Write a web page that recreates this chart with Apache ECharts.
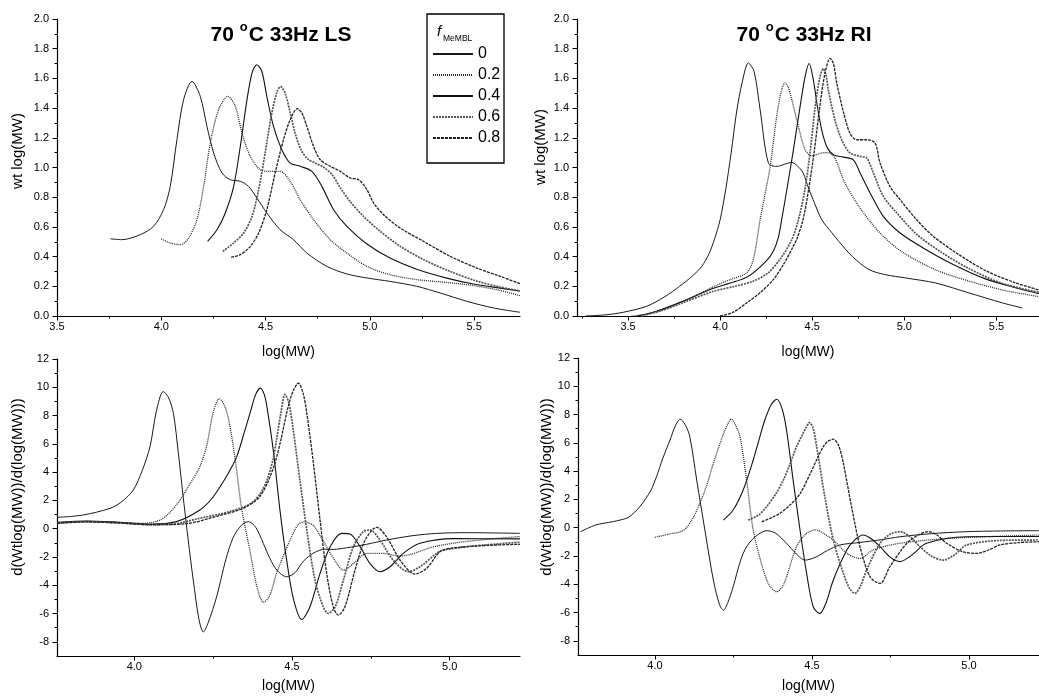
<!DOCTYPE html>
<html><head><meta charset="utf-8">
<script src="https://cdn.jsdelivr.net/npm/echarts@6/dist/echarts.min.js"></script>
<style>html,body{margin:0;padding:0;background:#fff}#c{width:1039px;height:700px}</style>
</head><body><div id="c"></div>
<script>
const FONT = 'Liberation Sans, Arial, sans-serif';
const fractions = ['0', '0.2', '0.4', '0.6', '0.8'];

// ---- Top-left: 70 °C 33Hz LS, wt log(MW) vs log(MW)
const ls0 = [[3.756,0.52],[3.81,0.514],[3.9,0.548],[3.963,0.604],[4.011,0.716],[4.043,0.873],[4.075,1.187],[4.107,1.457],[4.147,1.58],[4.187,1.479],[4.219,1.277],[4.251,1.098],[4.291,0.963],[4.331,0.918],[4.379,0.907],[4.418,0.873],[4.458,0.795],[4.506,0.694],[4.57,0.581],[4.634,0.514],[4.698,0.424],[4.794,0.334],[4.89,0.283],[4.986,0.256],[5.097,0.233],[5.225,0.2],[5.337,0.155],[5.465,0.099],[5.593,0.054],[5.72,0.025]];
const ls02 = [[4.0,0.519],[4.043,0.492],[4.091,0.48],[4.131,0.525],[4.171,0.649],[4.203,0.873],[4.235,1.165],[4.275,1.389],[4.319,1.479],[4.355,1.412],[4.387,1.232],[4.427,1.075],[4.474,0.985],[4.522,0.974],[4.57,0.974],[4.618,0.907],[4.666,0.783],[4.73,0.649],[4.81,0.514],[4.89,0.424],[4.986,0.334],[5.097,0.278],[5.225,0.245],[5.353,0.228],[5.497,0.205],[5.625,0.172],[5.72,0.137]];
const ls04 = [[4.222,0.503],[4.267,0.581],[4.307,0.694],[4.347,0.873],[4.379,1.143],[4.411,1.457],[4.435,1.636],[4.458,1.692],[4.482,1.648],[4.506,1.479],[4.538,1.277],[4.578,1.12],[4.618,1.03],[4.666,1.008],[4.722,0.974],[4.77,0.873],[4.826,0.716],[4.89,0.604],[4.986,0.485],[5.097,0.39],[5.225,0.315],[5.369,0.255],[5.497,0.215],[5.625,0.188],[5.72,0.168]];
const ls06 = [[4.295,0.435],[4.347,0.492],[4.395,0.559],[4.435,0.671],[4.467,0.851],[4.498,1.098],[4.53,1.367],[4.555,1.51],[4.572,1.545],[4.594,1.5],[4.618,1.37],[4.642,1.23],[4.67,1.12],[4.7,1.06],[4.738,1.03],[4.78,1.0],[4.82,0.95],[4.86,0.86],[4.906,0.77],[4.97,0.67],[5.05,0.57],[5.145,0.47],[5.257,0.38],[5.385,0.3],[5.513,0.235],[5.625,0.195],[5.72,0.168]];
const ls08 = [[4.335,0.395],[4.379,0.413],[4.427,0.469],[4.467,0.559],[4.506,0.716],[4.546,0.963],[4.586,1.187],[4.618,1.322],[4.652,1.396],[4.674,1.367],[4.698,1.277],[4.73,1.143],[4.762,1.053],[4.81,1.008],[4.858,0.974],[4.906,0.929],[4.946,0.918],[4.986,0.851],[5.018,0.761],[5.066,0.682],[5.145,0.593],[5.257,0.503],[5.385,0.402],[5.513,0.323],[5.625,0.267],[5.72,0.218]];

// ---- Top-right: 70 °C 33Hz RI
const ri0 = [[3.27,0],[3.38,0.008],[3.474,0.025],[3.6,0.065],[3.7,0.13],[3.78,0.2],[3.85,0.27],[3.9,0.334],[3.94,0.42],[3.97,0.52],[4.0,0.648],[4.03,0.85],[4.06,1.1],[4.09,1.38],[4.121,1.58],[4.153,1.704],[4.184,1.648],[4.217,1.39],[4.262,1.03],[4.307,1.007],[4.35,1.022],[4.389,1.034],[4.42,1.01],[4.45,0.965],[4.48,0.86],[4.505,0.783],[4.552,0.648],[4.606,0.561],[4.646,0.5],[4.718,0.4],[4.809,0.312],[4.899,0.278],[5.008,0.256],[5.171,0.222],[5.352,0.155],[5.533,0.088],[5.641,0.054]];
const ri02 = [[3.52,0],[3.6,0.012],[3.7,0.05],[3.78,0.09],[3.88,0.145],[3.96,0.195],[4.054,0.245],[4.144,0.29],[4.18,0.38],[4.217,0.648],[4.245,0.83],[4.271,1.0],[4.307,1.344],[4.334,1.524],[4.352,1.569],[4.37,1.54],[4.389,1.457],[4.425,1.277],[4.461,1.12],[4.497,1.079],[4.552,1.098],[4.587,1.1],[4.623,1.064],[4.669,0.918],[4.741,0.761],[4.814,0.637],[4.886,0.536],[4.99,0.43],[5.171,0.31],[5.352,0.235],[5.533,0.175],[5.731,0.13]];
const ri04 = [[3.55,0],[3.65,0.03],[3.78,0.09],[3.96,0.185],[4.05,0.22],[4.15,0.265],[4.25,0.37],[4.29,0.44],[4.316,0.53],[4.334,0.648],[4.362,0.85],[4.398,1.12],[4.434,1.41],[4.461,1.61],[4.483,1.7],[4.506,1.59],[4.528,1.41],[4.552,1.25],[4.579,1.14],[4.615,1.086],[4.669,1.07],[4.723,1.052],[4.76,0.963],[4.814,0.828],[4.886,0.671],[4.977,0.559],[5.1,0.46],[5.26,0.35],[5.44,0.25],[5.62,0.185],[5.731,0.15]];
const ri06 = [[3.57,0],[3.68,0.035],[3.8,0.09],[3.96,0.165],[4.08,0.2],[4.18,0.235],[4.26,0.29],[4.33,0.39],[4.389,0.514],[4.425,0.648],[4.46,0.85],[4.49,1.12],[4.515,1.4],[4.54,1.6],[4.56,1.665],[4.575,1.62],[4.587,1.524],[4.623,1.322],[4.66,1.187],[4.705,1.098],[4.76,1.075],[4.796,1.064],[4.832,0.963],[4.886,0.805],[4.959,0.694],[5.067,0.55],[5.2,0.43],[5.35,0.32],[5.53,0.22],[5.731,0.16]];
const ri08 = [[4.0,0],[4.07,0.025],[4.144,0.088],[4.22,0.16],[4.289,0.245],[4.35,0.36],[4.397,0.469],[4.415,0.514],[4.45,0.648],[4.48,0.85],[4.51,1.1],[4.54,1.4],[4.57,1.64],[4.597,1.735],[4.615,1.7],[4.633,1.57],[4.67,1.37],[4.705,1.23],[4.741,1.187],[4.796,1.187],[4.841,1.165],[4.868,1.03],[4.922,0.873],[4.977,0.783],[5.067,0.648],[5.158,0.536],[5.3,0.41],[5.45,0.3],[5.6,0.225],[5.731,0.175]];

// ---- Bottom-left: LS derivative
const lsd0 = [[3.756,0.8],[3.838,0.97],[3.923,1.44],[3.96,1.9],[3.997,2.74],[4.025,4.1],[4.05,5.81],[4.07,8.3],[4.092,9.7],[4.108,9.3],[4.124,8.17],[4.14,5.3],[4.155,2.27],[4.171,-0.8],[4.187,-3.63],[4.205,-6.4],[4.219,-7.3],[4.235,-6.6],[4.261,-4.82],[4.29,-2.2],[4.314,-0.6],[4.34,0.25],[4.362,0.5],[4.385,0.1],[4.409,-1.03],[4.43,-2.1],[4.452,-2.92],[4.483,-3.4],[4.51,-3.1],[4.536,-2.3],[4.57,-1.7],[4.605,-1.45],[4.631,-1.46],[4.673,-1.35],[4.737,-1.1],[4.8,-0.8],[4.88,-0.5],[4.959,-0.33],[5.054,-0.28],[5.223,-0.33]];
const lsd02 = [[3.756,0.42],[3.85,0.5],[3.95,0.45],[4.03,0.38],[4.082,0.62],[4.115,1.2],[4.145,2.03],[4.18,3.3],[4.208,4.39],[4.23,5.9],[4.25,8.2],[4.27,9.2],[4.288,8.6],[4.302,7.4],[4.32,4.9],[4.34,1.5],[4.367,-1.6],[4.39,-4.2],[4.41,-5.2],[4.43,-4.7],[4.451,-3.16],[4.494,-0.8],[4.52,0.3],[4.54,0.48],[4.56,0.35],[4.573,0.1],[4.61,-1.28],[4.642,-2.46],[4.663,-2.93],[4.695,-2.46],[4.737,-1.75],[4.79,-1.75],[4.842,-1.94],[4.885,-1.75],[4.948,-1.28],[5.054,-0.9],[5.223,-0.55]];
const lsd04 = [[3.756,0.45],[3.85,0.55],[3.95,0.45],[4.05,0.32],[4.134,0.5],[4.208,1.32],[4.245,2.1],[4.272,2.97],[4.3,4.0],[4.325,5.1],[4.35,6.9],[4.367,8.17],[4.385,9.5],[4.4,9.94],[4.412,9.5],[4.42,8.7],[4.441,5.5],[4.462,1.3],[4.483,-2.2],[4.505,-5.0],[4.531,-6.42],[4.557,-5.52],[4.589,-3.16],[4.621,-1.27],[4.658,-0.33],[4.684,-0.38],[4.716,-1.27],[4.747,-2.45],[4.779,-3.04],[4.811,-2.69],[4.853,-1.74],[4.906,-1.03],[5.012,-0.7],[5.223,-0.72]];
const lsd06 = [[3.756,0.4],[3.85,0.5],[3.95,0.42],[4.05,0.3],[4.12,0.32],[4.2,0.7],[4.3,1.2],[4.367,1.75],[4.4,2.5],[4.42,3.4],[4.44,4.9],[4.451,6.28],[4.465,8.2],[4.478,9.5],[4.49,8.9],[4.504,7.0],[4.525,3.45],[4.547,-0.09],[4.573,-3.63],[4.599,-5.52],[4.615,-5.99],[4.637,-5.52],[4.663,-3.63],[4.695,-1.27],[4.726,-0.21],[4.747,-0.09],[4.779,-0.8],[4.821,-2.22],[4.869,-3.04],[4.906,-2.69],[4.959,-1.74],[4.98,-1.51],[5.065,-1.25],[5.223,-0.95]];
const lsd08 = [[3.756,0.38],[3.85,0.48],[3.95,0.4],[4.05,0.28],[4.166,0.36],[4.272,0.95],[4.346,1.45],[4.399,2.3],[4.441,4.3],[4.465,6.3],[4.483,8.17],[4.494,9.11],[4.505,9.8],[4.52,10.29],[4.535,9.6],[4.547,8.17],[4.568,4.63],[4.589,0.62],[4.61,-3.16],[4.631,-5.52],[4.647,-6.11],[4.668,-5.52],[4.7,-2.92],[4.732,-0.8],[4.769,0.1],[4.8,-0.57],[4.843,-2.22],[4.89,-3.21],[4.927,-2.8],[4.969,-1.63],[5.001,-1.39],[5.1,-1.2],[5.223,-1.1]];

// ---- Bottom-right: RI derivative
const rid0 = [[3.763,-0.28],[3.811,0.19],[3.864,0.42],[3.889,0.54],[3.917,0.75],[3.952,1.49],[3.986,2.6],[4.005,3.61],[4.025,4.9],[4.048,6.2],[4.065,7.2],[4.08,7.67],[4.096,7.3],[4.111,6.44],[4.133,3.37],[4.159,-0.16],[4.186,-3.7],[4.205,-5.4],[4.218,-5.83],[4.232,-5.3],[4.249,-4.18],[4.273,-2.29],[4.292,-1.34],[4.321,-0.6],[4.356,-0.21],[4.385,-0.4],[4.419,-1.1],[4.45,-1.85],[4.478,-2.29],[4.51,-2.1],[4.55,-1.6],[4.589,-1.22],[4.65,-1.05],[4.72,-0.85],[4.78,-0.64],[4.88,-0.42],[4.993,-0.28],[5.1,-0.23],[5.223,-0.21]];
const rid02 = [[4.0,-0.68],[4.045,-0.45],[4.09,-0.2],[4.119,0.6],[4.143,1.73],[4.165,3.0],[4.186,4.56],[4.205,5.8],[4.223,6.91],[4.244,7.67],[4.26,7.1],[4.271,6.44],[4.292,3.37],[4.313,-0.16],[4.345,-2.99],[4.365,-4.1],[4.388,-4.53],[4.405,-4.2],[4.419,-3.47],[4.451,-1.34],[4.48,-0.45],[4.51,-0.15],[4.53,-0.3],[4.55,-0.6],[4.568,-0.87],[4.611,-1.81],[4.653,-2.17],[4.695,-1.58],[4.78,-1.1],[4.939,-0.75],[5.1,-0.6],[5.223,-0.52]];
const rid04 = [[4.218,0.54],[4.249,1.25],[4.281,2.67],[4.313,4.79],[4.335,6.5],[4.35,7.62],[4.37,8.7],[4.388,9.08],[4.405,8.4],[4.419,6.91],[4.44,3.37],[4.462,-0.16],[4.483,-3.23],[4.504,-5.59],[4.525,-6.06],[4.545,-5.3],[4.568,-3.7],[4.611,-1.58],[4.635,-0.9],[4.663,-0.52],[4.69,-0.8],[4.717,-1.34],[4.75,-2.1],[4.78,-2.4],[4.82,-1.9],[4.865,-1.1],[4.993,-0.64],[5.223,-0.62]];
const rid06 = [[4.297,0.54],[4.33,0.9],[4.356,1.49],[4.385,2.4],[4.409,3.37],[4.43,4.5],[4.451,5.73],[4.47,6.6],[4.483,7.15],[4.492,7.43],[4.503,7.1],[4.515,5.73],[4.541,2.19],[4.568,-0.87],[4.6,-3.23],[4.62,-4.3],[4.637,-4.64],[4.655,-4.1],[4.674,-2.99],[4.717,-1.1],[4.75,-0.45],[4.78,-0.28],[4.81,-0.6],[4.844,-1.34],[4.88,-2.0],[4.918,-2.29],[4.955,-1.9],[4.993,-1.22],[5.099,-0.9],[5.223,-0.87]];
const rid08 = [[4.34,0.42],[4.37,0.7],[4.398,1.02],[4.43,1.6],[4.462,2.4],[4.494,3.8],[4.515,4.8],[4.536,5.73],[4.55,6.1],[4.568,6.26],[4.585,5.8],[4.6,4.56],[4.626,1.49],[4.653,-1.34],[4.685,-3.47],[4.717,-3.94],[4.748,-2.76],[4.802,-1.1],[4.84,-0.5],[4.87,-0.28],[4.9,-0.55],[4.929,-1.1],[4.98,-1.7],[5.024,-1.81],[5.06,-1.6],[5.099,-1.22],[5.16,-1.05],[5.223,-0.99]];

// ---- tick values
const topXTicksLS = [3.5, 4.0, 4.5, 5.0, 5.5];
const topXMinorLS = [3.75, 4.25, 4.75, 5.25];
const topXTicksRI = [3.5, 4.0, 4.5, 5.0, 5.5];
const topXMinorRI = [3.25, 3.75, 4.25, 4.75, 5.25];
const botXTicks = [4.0, 4.5, 5.0];
const botXMinor = [4.25, 4.75];
const topYTicks = [0, 0.2, 0.4, 0.6, 0.8, 1.0, 1.2, 1.4, 1.6, 1.8, 2.0];
const topYMinor = [0.1, 0.3, 0.5, 0.7, 0.9, 1.1, 1.3, 1.5, 1.7, 1.9];
const botYTicks = [-8, -6, -4, -2, 0, 2, 4, 6, 8, 10, 12];
const botYMinor = [-7, -5, -3, -1, 1, 3, 5, 7, 9, 11];

const titleLS = '70 {sup|o}C 33Hz LS';
const titleRI = '70 {sup|o}C 33Hz RI';
const xName = 'log(MW)';
const yNameTop = 'wt log(MW)';
const yNameBot = 'd(Wtlog(MW))/d(log(MW)))';

const lineStyles = [
  {color: '#1a1a1a', width: 1, type: 'solid'},
  {color: '#2a2a2a', width: 1.3, type: [1, 1]},
  {color: '#111', width: 1.1, type: 'solid'},
  {color: '#555', width: 1.7, type: [2, 1]},
  {color: '#222', width: 1.3, type: [3, 1]}
];

const panels = [
  {grid: {left: 57, top: 19, width: 463, height: 297}, x: [3.5, 5.72], y: [0, 2], xT: topXTicksLS, xM: topXMinorLS, yT: topYTicks, yM: topYMinor, curves: [ls0, ls02, ls04, ls06, ls08], yDec: 1, gap: 29},
  {grid: {left: 577, top: 19, width: 462, height: 297}, x: [3.223, 5.731], y: [0, 2], xT: topXTicksRI, xM: topXMinorRI, yT: topYTicks, yM: topYMinor, curves: [ri0, ri02, ri04, ri06, ri08], yDec: 1, gap: 29},
  {grid: {left: 57, top: 359, width: 463, height: 297}, x: [3.755, 5.223], y: [-9, 12], xT: botXTicks, xM: botXMinor, yT: botYTicks, yM: botYMinor, curves: [lsd0, lsd02, lsd04, lsd06, lsd08], yDec: 0, gap: 23},
  {grid: {left: 578, top: 358, width: 461, height: 297}, x: [3.755, 5.223], y: [-9, 12], xT: botXTicks, xM: botXMinor, yT: botYTicks, yM: botYMinor, curves: [rid0, rid02, rid04, rid06, rid08], yDec: 0, gap: 24}
];

const grids = [], xAxes = [], yAxes = [], series = [];
const axLine = {show: true, onZero: false, lineStyle: {color: '#000', width: 1.2}};
const lbl = {fontSize: 11, color: '#000', fontFamily: FONT};
panels.forEach((p, i) => {
  grids.push(Object.assign({containLabel: false, outerBoundsMode: 'none'}, p.grid));
  xAxes.push({gridIndex: i, type: 'value', min: p.x[0], max: p.x[1], position: 'bottom',
    name: xName, nameLocation: 'middle', nameGap: p.gap, nameMoveOverlap: false,
    nameTextStyle: {fontSize: 14, color: '#000', fontFamily: FONT},
    axisLine: axLine,
    axisTick: {show: true, customValues: p.xT, length: 4.5, lineStyle: {color: '#000', width: 1}},
    axisLabel: Object.assign({show: true, customValues: p.xT, margin: 5, hideOverlap: false, formatter: v => Number(v).toFixed(1)}, lbl),
    splitLine: {show: false}});
  yAxes.push({gridIndex: i, type: 'value', min: p.y[0], max: p.y[1], position: 'left',
    axisLine: axLine,
    axisTick: {show: true, customValues: p.yT, length: 4.5, lineStyle: {color: '#000', width: 1}},
    axisLabel: Object.assign({show: true, customValues: p.yT, margin: 8, hideOverlap: false, formatter: v => Number(v).toFixed(p.yDec)}, lbl),
    splitLine: {show: false}});
  p.curves.forEach((d, j) => {
    series.push({name: fractions[j], type: 'line', xAxisIndex: i, yAxisIndex: i, data: d,
      symbol: 'none', showSymbol: false, smooth: 0.3, clip: true,
      color: lineStyles[j].color, lineStyle: lineStyles[j], z: 2 + j});
  });
});
panels.forEach((p, i) => {
  xAxes.push({gridIndex: i, type: 'value', min: p.x[0], max: p.x[1], position: 'bottom',
    axisLine: {show: false, onZero: false},
    axisTick: {show: true, customValues: p.xM, length: 2.5, lineStyle: {color: '#000', width: 1}},
    axisLabel: {show: false}, splitLine: {show: false}});
  yAxes.push({gridIndex: i, type: 'value', min: p.y[0], max: p.y[1], position: 'left',
    axisLine: {show: false, onZero: false},
    axisTick: {show: true, customValues: p.yM, length: 2.5, lineStyle: {color: '#000', width: 1}},
    axisLabel: {show: false}, splitLine: {show: false}});
});

function yName(text, x, y) {
  return {type: 'text', x: x, y: y, rotation: Math.PI / 2, z: 10,
    style: {text: text, fontSize: 15, fill: '#000', fontFamily: FONT, align: 'center', verticalAlign: 'middle'}};
}
function titleText(text, x, y) {
  return {type: 'text', x: x, y: y, z: 10,
    style: {text: text, fontSize: 21, fontWeight: 'bold', fill: '#000', fontFamily: FONT, align: 'center', verticalAlign: 'middle',
      rich: {sup: {fontSize: 13, fontWeight: 'bold', fontFamily: FONT, verticalAlign: 'top', padding: [0, 1, 16, 0]}}}};
}

const chart = echarts.init(document.getElementById('c'), null, {renderer: 'canvas'});
chart.setOption({
  animation: false,
  backgroundColor: '#fff',
  grid: grids,
  xAxis: xAxes,
  yAxis: yAxes,
  legend: {data: fractions, orient: 'vertical', left: 432, top: 46, itemWidth: 40, itemHeight: 14, itemGap: 5,
    padding: 0, selectedMode: false, itemStyle: {opacity: 0},
    textStyle: {fontSize: 16, color: '#000', fontFamily: FONT}},
  graphic: [
    yName(yNameTop, 18, 151), yName(yNameTop, 541, 147),
    yName(yNameBot, 18, 487), yName(yNameBot, 547, 487),
    titleText(titleLS, 281, 35), titleText(titleRI, 804, 35),
    {type: 'rect', shape: {x: 427, y: 14, width: 77, height: 149}, z: 1,
      style: {fill: 'transparent', stroke: '#000', lineWidth: 1.3}},
    {type: 'text', x: 437, y: 32, z: 10, style: {text: 'f', fontSize: 15, fontStyle: 'italic', fill: '#000', fontFamily: FONT, verticalAlign: 'middle'}},
    {type: 'text', x: 443, y: 39, z: 10, style: {text: 'MeMBL', fontSize: 8.5, fill: '#000', fontFamily: FONT, verticalAlign: 'middle'}}
  ],
  series: series
});
</script>
</body></html>
